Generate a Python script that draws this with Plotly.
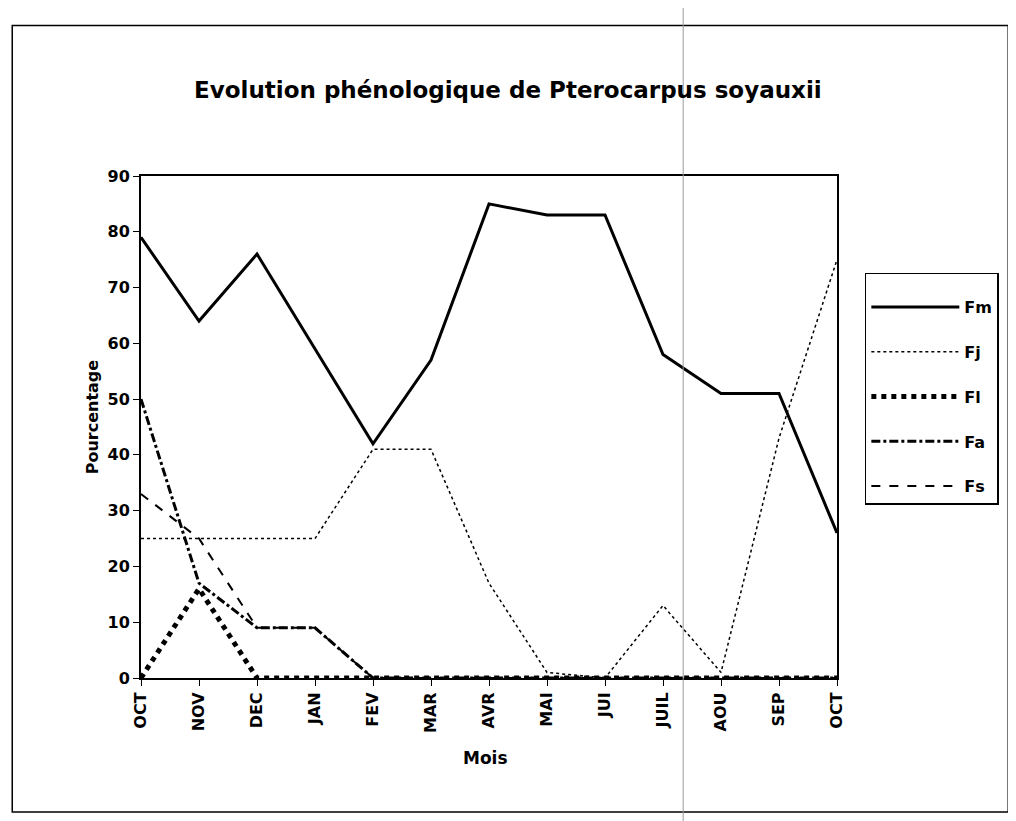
import plotly.graph_objects as go

# Mois (octobre à octobre)
mois = ["OCT", "NOV", "DEC", "JAN", "FEV", "MAR", "AVR",
        "MAI", "JUI", "JUIL", "AOU", "SEP", "OCT"]

fm = [79, 64, 76, 59, 42, 57, 85, 83, 83, 58, 51, 51, 26]
fj = [25, 25, 25, 25, 41, 41, 17, 1, 0, 13, 1, 43, 75]
fl = [0, 16, 0, 0, 0, 0, 0, 0, 0, 0, 0, 0, 0]
fa = [50, 17, 9, 9, 0, 0, 0, 0, 0, 0, 0, 0, 0]
fs = [33, 25, 9, 9, 0, 0, 0, 0, 0, 0, 0, 0, 0]

x = list(range(len(mois)))

series = [
    ("Fm", fm, dict(color="black", width=3)),
    ("Fj", fj, dict(color="black", width=1.5, dash="dot")),
    ("Fl", fl, dict(color="black", width=5, dash="dot")),
    ("Fa", fa, dict(color="black", width=3, dash="dashdot")),
    ("Fs", fs, dict(color="black", width=2, dash="dash")),
]

fig = go.Figure()
for i, (nom, vals, ligne) in enumerate(series):
    fig.add_trace(go.Scatter(x=x, y=vals, mode="lines", name=nom,
                             line=ligne, legendgroup=str(i)))

font = "DejaVu Sans, Arial, sans-serif"

fig.update_layout(
    width=1016, height=821,
    paper_bgcolor="white", plot_bgcolor="white",
    margin=dict(l=133, r=187, t=168, b=151),
    font=dict(family=font, color="black"),
    title=dict(text="<b>Evolution phénologique de Pterocarpus soyauxii</b>",
               x=0.492, xanchor="center", y=0.9, yanchor="middle",
               font=dict(size=23)),
    showlegend=True,
    legend=dict(x=1.04, y=0.807, xanchor="left", yanchor="top",
                bgcolor="white", bordercolor="black", borderwidth=1.5,
                font=dict(size=16, weight=700), tracegroupgap=21,
                itemwidth=88,
                title=dict(text=" ", font=dict(size=12))),
)

fig.update_xaxes(
    range=[0, 12], tickmode="array", tickvals=x, ticktext=mois,
    tickangle=-90, tickfont=dict(size=16, weight=700),
    ticks="outside", ticklen=6, tickcolor="black",
    showline=True, linecolor="black", linewidth=2, mirror=True,
    showgrid=False, zeroline=False,
)
fig.update_yaxes(
    range=[0, 90], dtick=10, tickfont=dict(size=16, weight=700),
    ticks="outside", ticklen=6, tickcolor="black",
    showline=True, linecolor="black", linewidth=2, mirror=True,
    showgrid=False, zeroline=False,
)

fig.add_annotation(text="<b>Mois</b>", xref="paper", yref="paper",
                   x=0.495, y=-0.183, showarrow=False,
                   font=dict(size=17))
fig.add_annotation(text="<b>Pourcentage</b>", xref="paper", yref="paper",
                   x=-0.085, y=0.52, textangle=-90, showarrow=False,
                   font=dict(size=16))

# cadre de la page
fig.add_shape(type="rect", xref="paper", yref="paper",
              x0=-0.185, x1=1.246, y0=-0.267, y1=1.30,
              line=dict(color="black", width=1.5))
# pli du papier
fig.add_shape(type="line", xref="paper", yref="paper",
              x0=0.779, x1=0.779, y0=-0.3, y1=1.4,
              line=dict(color="#999999", width=1))

fig.write_html("out.html")
